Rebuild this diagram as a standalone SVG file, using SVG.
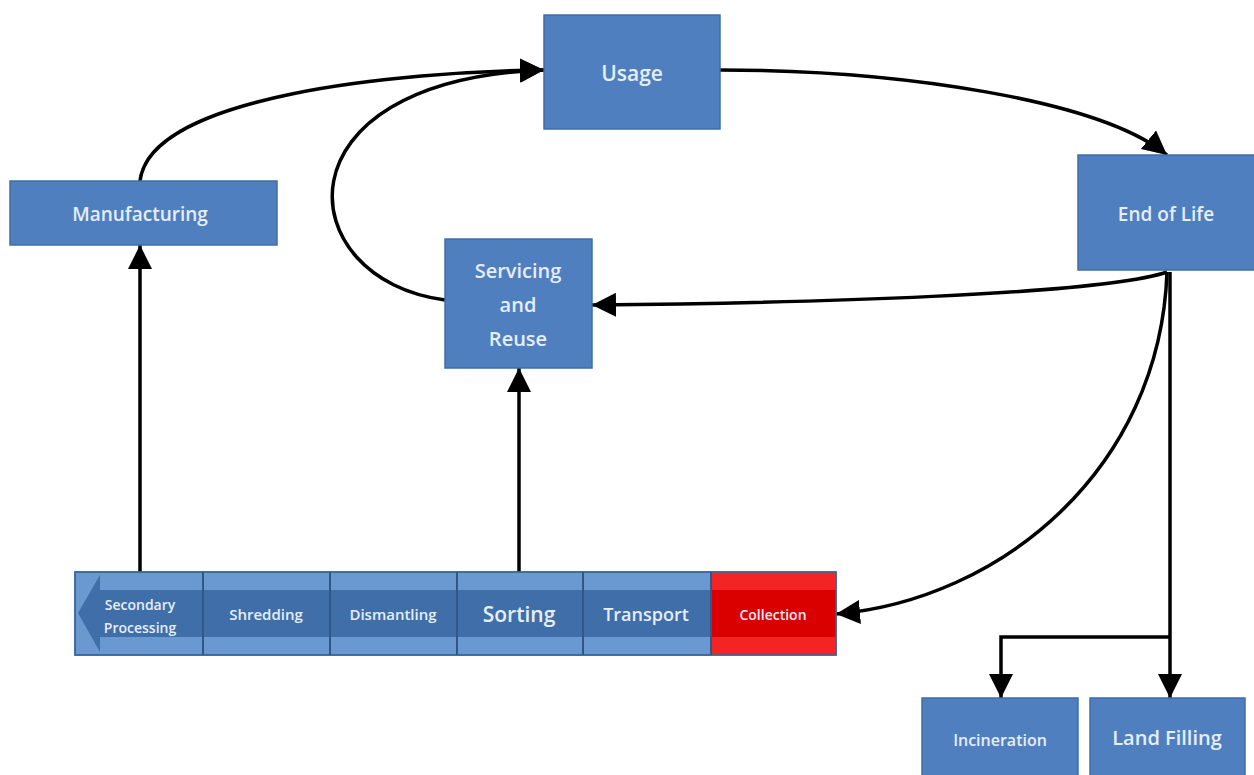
<svg xmlns="http://www.w3.org/2000/svg" width="1254" height="775" viewBox="0 0 1254 775">
<style>
.box{fill:#4f7fbf;stroke:#3f6ea8;stroke-width:1.5}
.t{font-family:"Open Sans","Liberation Sans",sans-serif;font-weight:600;fill:#e6eefa;text-anchor:middle;dominant-baseline:central}
.c{fill:none;stroke:#000;stroke-width:3.5;marker-end:url(#ah)}
.seg{fill:none;stroke:#2f5888;stroke-width:2}
</style>
<defs>
<marker id="ah" markerUnits="userSpaceOnUse" markerWidth="26" markerHeight="24" refX="24" refY="12" orient="auto">
<path d="M0,0 L24,12 L0,24 Z" fill="#000"/>
</marker>
</defs>
<rect width="1254" height="775" fill="#fff"/>
<g id="connectors">
<path class="c" d="M140,181 C150,95 400,72 544,70"/>
<path class="c" d="M445,300 C290,280 270,80 544,70"/>
<path class="c" d="M720,70 C900,70 1100,100 1167,155"/>
<path class="c" d="M1167,272 C1100,295 800,303 592,305"/>
<path class="c" d="M1167,272 C1160,470 1000,600 836,614"/>
<path class="c" d="M1170,272 L1170,698"/>
<path class="c" d="M1170,637 L1001,637 L1001,698"/>
<path class="c" d="M140,572 L140,245"/>
<path class="c" d="M519,572 L519,368"/>
</g>
<g id="usage"><rect class="box" x="544" y="15" width="176" height="114"/><text class="t" x="632" y="73" font-size="21">Usage</text></g>
<g id="manufacturing"><rect class="box" x="10" y="181" width="267" height="64"/><text class="t" x="140" y="214" font-size="19">Manufacturing</text></g>
<g id="endoflife"><rect class="box" x="1078" y="155" width="180" height="115"/><text class="t" x="1166" y="214" font-size="19">End of Life</text></g>
<g id="servicing"><rect class="box" x="445" y="239" width="147" height="129"/><text class="t" x="518" y="270" font-size="20">Servicing</text><text class="t" x="518" y="304" font-size="20">and</text><text class="t" x="518" y="338" font-size="20">Reuse</text></g>
<g id="bar">
<rect x="75" y="572" width="761" height="83" fill="#6a98d0" stroke="#3f6ea8" stroke-width="1.5"/>
<path d="M100,590 L711,590 L711,637 L100,637 L100,652 L78,613 L100,575 Z" fill="#3f6ea8"/>
<rect x="711" y="572" width="125" height="83" fill="#f42424"/>
<rect x="711" y="590" width="125" height="47" fill="#db0000"/>
<rect x="75" y="572" width="761" height="83" fill="none" stroke="#3a659c" stroke-width="1.5"/>
<path class="seg" d="M203,572 V655 M330,572 V655 M457,572 V655 M583,572 V655 M711,572 V655"/>
</g>
<g id="secondary"><text class="t" x="140" y="604" font-size="14">Secondary</text><text class="t" x="140" y="627" font-size="14">Processing</text></g>
<g id="shredding"><text class="t" x="266" y="614" font-size="15">Shredding</text></g>
<g id="dismantling"><text class="t" x="393" y="614" font-size="15">Dismantling</text></g>
<g id="sorting"><text class="t" x="519" y="614" font-size="21">Sorting</text></g>
<g id="transport"><text class="t" x="646" y="614" font-size="18">Transport</text></g>
<g id="collection"><text class="t" x="773" y="614" font-size="14">Collection</text></g>
<g id="incineration"><rect class="box" x="922" y="698" width="156" height="80"/><text class="t" x="1000" y="740" font-size="16">Incineration</text></g>
<g id="landfilling"><rect class="box" x="1090" y="698" width="155" height="80"/><text class="t" x="1167" y="737" font-size="20">Land Filling</text></g>
</svg>
